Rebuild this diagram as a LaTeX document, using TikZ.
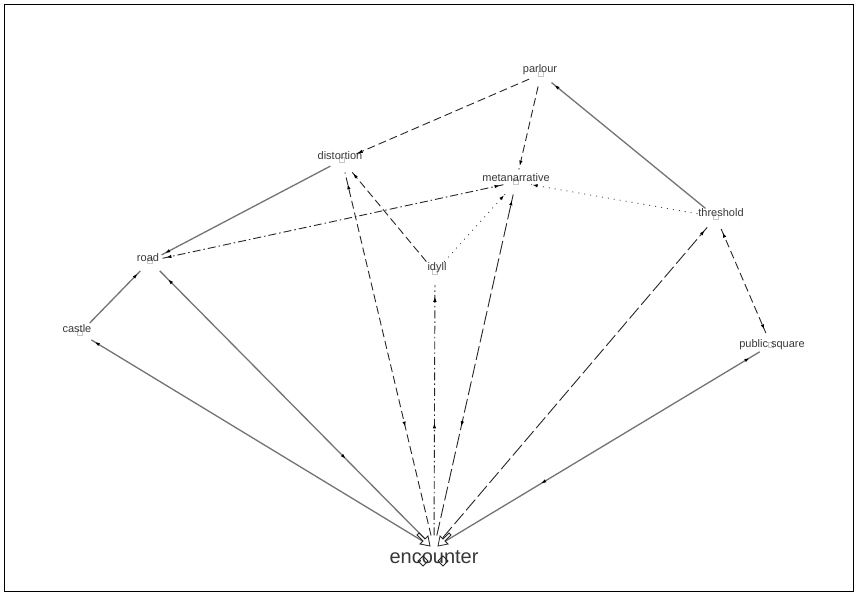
\documentclass[tikz,border=0pt]{standalone}
\usepackage{fontspec}
\setmainfont{Liberation Sans}
\usetikzlibrary{arrows.meta,decorations.markings}

\tikzset{
  lbl/.style={font=\fontsize{11}{12}\selectfont, text=black!78, inner sep=0pt},
  vbox/.style={draw=black!22, line width=0.5pt, minimum size=5pt, inner sep=0pt},
  solidedge/.style={draw=black!55, line width=1.3pt, shorten <=10pt, shorten >=10pt},
  dashedge/.style={draw=black!85, line width=0.9pt, dash pattern=on 8pt off 4pt, shorten <=10pt, shorten >=10pt},
  longdash/.style={draw=black!85, line width=0.9pt, dash pattern=on 14pt off 4pt, shorten <=10pt, shorten >=10pt},
  dashdot/.style={draw=black!85, line width=0.9pt, dash pattern=on 8pt off 3pt on 1.5pt off 3pt, shorten <=10pt, shorten >=10pt},
  dotedge/.style={draw=black!70, line width=0.9pt, dash pattern=on 1pt off 5pt, shorten <=10pt, shorten >=10pt},
  tipfwd/.style={postaction={decorate, decoration={markings,
      mark=at position #1 with {\arrow{Latex[length=5pt,width=3.5pt,color=black]}}}}},
  tipback/.style={postaction={decorate, decoration={markings,
      mark=at position #1 with {\arrowreversed{Latex[length=5pt,width=3.5pt,color=black]}}}}},
  bigtip/.style={draw=black!85, line width=0.8pt, fill=white},
}

\begin{document}
\begin{tikzpicture}[x=1pt, y=-1pt]
  \useasboundingbox (0,0) rectangle (858,596);
  \draw[black, line width=0.8pt] (4.5,4.5) rectangle (853.5,591.5);

  % vertices
  \node[vbox] (P) at (541,74) {};
  \node[vbox] (D) at (342,160) {};
  \node[vbox] (M) at (516,182) {};
  \node[vbox] (T) at (716,217) {};
  \node[vbox] (R) at (150,261) {};
  \node[vbox] (I) at (435,272) {};
  \node[vbox] (C) at (80,333) {};
  \node[vbox] (Q) at (771,345) {};
  \node[inner sep=0pt, minimum size=5pt] (E) at (434,548) {};

  % labels
  \node[lbl] (Pl) at (540,70) {parlour};
  \node[lbl] (Dl) at (340,156) {distortion};
  \node[lbl] (Ml) at (516,178) {metanarrative};
  \node[lbl] (Tl) at (721,213) {threshold};
  \node[lbl] (Rl) at (148,258) {road};
  \node[lbl] (Il) at (437,268) {idyll};
  \node[lbl] (Cl) at (77,329) {castle};
  \node[lbl] (Ql) at (772,345) {public square};
  \node[lbl, font=\fontsize{20}{22}\selectfont] (El) at (434,557) {encounter};

  % edges among the upper vertices
  \draw[solidedge, tipfwd=-14pt] (T) -- (P);
  \draw[dashedge, tipfwd=-14pt] (P) -- (D);
  \draw[dashedge, tipfwd=-14pt] (P) -- (M);
  \draw[solidedge, tipfwd=-14pt] (D) -- (R);
  \draw[dashdot, tipfwd=-14pt, tipback=14pt] (M) -- (R);
  \draw[dotedge, tipfwd=-14pt] (T) -- (M);
  \draw[dashedge, tipfwd=-14pt] (I) -- (D);
  \draw[dotedge, tipfwd=-14pt] (I) -- (M);
  \draw[dashedge, tipfwd=-14pt, tipback=14pt] (T) -- (Q);
  \draw[solidedge, tipfwd=-14pt] (C) -- (R);

  % edges to encounter
  \draw[solidedge, tipfwd=-14pt] (E) -- (C);
  \draw[solidedge, tipfwd=-22pt, tipback=122pt] (E) -- (R);
  \draw[dashedge, tipfwd=-22pt, tipback=122pt] (E) -- (D);
  \draw[dashdot, tipfwd=-22pt, tipfwd=122pt] (E) -- (I);
  \draw[longdash, tipfwd=-16pt, tipback=122pt] (E) -- (M);
  \draw[longdash, tipfwd=-14pt] (E) -- (T);
  \draw[solidedge, tipfwd=-22pt, tipback=122pt] (E) -- (Q);

  % open heads at encounter
  \draw[bigtip] (430,546) -- (420,544) -- (423,541) -- (417,535) -- (419,533) -- (425,539) -- (428,536) -- cycle;
  \draw[bigtip] (438,546) -- (448,544) -- (445,541) -- (451,535) -- (449,533) -- (443,539) -- (440,536) -- cycle;
  \draw[draw=black!85, line width=0.8pt] (423,556) -- (428,561) -- (423,566) -- (418,561) -- cycle;
  \draw[draw=black!85, line width=0.8pt] (443,556) -- (448,561) -- (443,566) -- (438,561) -- cycle;
\end{tikzpicture}
\end{document}
